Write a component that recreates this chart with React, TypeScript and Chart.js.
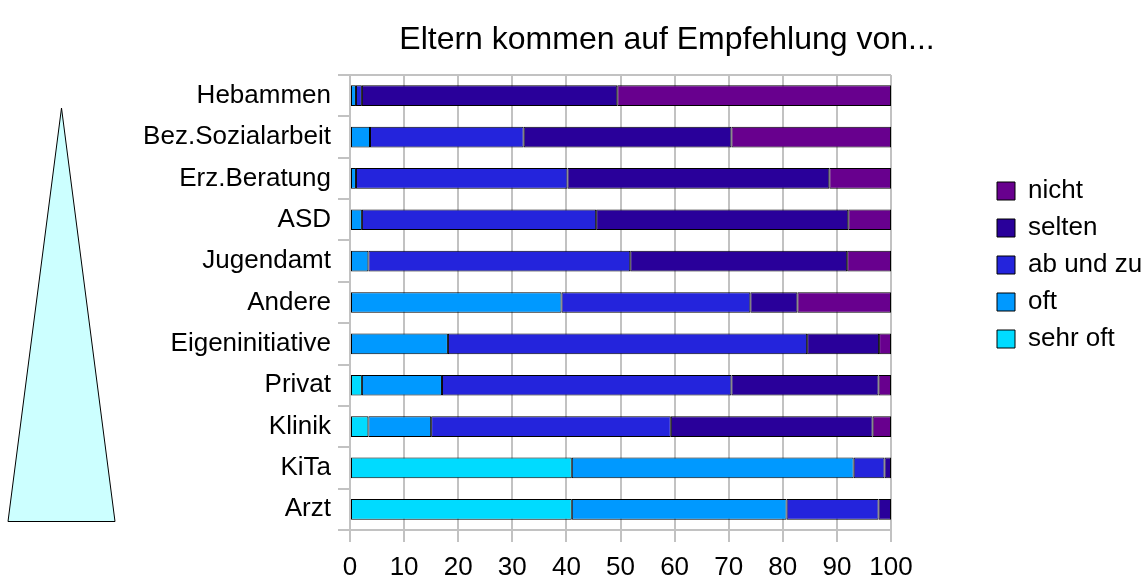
import React, { useEffect, useRef } from 'react';
import { Chart, registerables } from 'chart.js';

Chart.register(...registerables);

const categories = [
  'Hebammen',
  'Bez.Sozialarbeit',
  'Erz.Beratung',
  'ASD',
  'Jugendamt',
  'Andere',
  'Eigeninitiative',
  'Privat',
  'Klinik',
  'KiTa',
  'Arzt',
];

const sehrOft = [0, 0, 0, 0, 0, 0, 0, 2.2, 3.4, 41.0, 41.0];
const oft = [1.1, 3.7, 1.1, 2.2, 3.4, 39.1, 18.1, 14.8, 11.6, 52.1, 39.7];
const abUndZu = [1.1, 28.4, 39.1, 43.3, 48.4, 34.9, 66.4, 53.5, 44.3, 5.7, 17.0];
const selten = [47.2, 38.4, 48.4, 46.6, 40.1, 8.7, 13.3, 27.2, 37.3, 1.2, 2.3];
const nicht = [50.6, 29.5, 11.4, 7.9, 8.1, 17.3, 2.2, 2.3, 3.4, 0, 0];

const seriesNames = ['sehr oft', 'oft', 'ab und zu', 'selten', 'nicht'];
const seriesValues = [sehrOft, oft, abUndZu, selten, nicht];
const seriesColors = ['#00dbff', '#0099ff', '#2424dc', '#29009a', '#68008e'];

const titleText = 'Eltern kommen auf Empfehlung von...';
const xMin = 0;
const xMax = 100;
const xStep = 10;

// layout (page pixels)
const W = 1144;
const H = 579;
const PLOT_LEFT = 350;
const PLOT_RIGHT = 891;
const PLOT_BOTTOM = 530;
const LEGEND_BOX_X = 997;
const LEGEND_BOX_Y = 182;
const LEGEND_PAD = 11;
const LEGEND_BOX = 18;
const LEGEND_FONT = 26;
const TITLE_CENTER_X = 667;
const GRID = '#c2c2c2';
const FONT = "'Liberation Sans', Arial, sans-serif";

const tweaks = {
  id: 'tweaks',
  beforeInit(chart: any) {
    const lg = chart.legend;
    if (lg) {
      const orig = lg.fit;
      lg.fit = function () {
        orig.call(this);
        this.width = W - PLOT_RIGHT;
      };
    }
  },
  afterLayout(chart: any) {
    const lg = chart.legend;
    if (lg) {
      const nl = LEGEND_BOX_X - LEGEND_PAD;
      const dx = nl - lg.left;
      lg.left += dx;
      lg.right += dx;
      lg.top = LEGEND_BOX_Y - LEGEND_PAD - (LEGEND_FONT - LEGEND_BOX) / 2;
    }
    const t = chart.titleBlock;
    if (t) {
      const c = (t.left + t.right) / 2;
      const dx = TITLE_CENTER_X - c;
      t.left += dx;
      t.right += dx;
    }
  },
};

export default function App() {
  const ref = useRef<HTMLCanvasElement>(null);
  useEffect(() => {
    if (!ref.current) return;
    const chart = new Chart(ref.current, {
      type: 'bar',
      data: {
        labels: categories,
        datasets: seriesNames.map((name, i) => ({
          label: name,
          data: seriesValues[i],
          backgroundColor: seriesColors[i],
          borderColor: '#000000',
          borderWidth: 1,
          borderSkipped: false,
          inflateAmount: 0,
          barPercentage: 0.5,
          categoryPercentage: 1,
        })),
      },
      options: {
        indexAxis: 'y',
        responsive: false,
        animation: false,
        layout: { padding: 0 },
        plugins: {
          title: {
            display: true,
            text: titleText,
            color: '#000',
            font: { family: FONT, size: 32, weight: 'normal' },
            padding: { top: 21, bottom: 15.6 },
          },
          legend: {
            display: true,
            position: 'right',
            align: 'start',
            reverse: true,
            labels: {
              color: '#000',
              boxWidth: LEGEND_BOX,
              boxHeight: LEGEND_BOX,
              padding: LEGEND_PAD,
              font: { family: FONT, size: LEGEND_FONT },
            },
          },
          tooltip: { enabled: false },
        },
        scales: {
          x: {
            type: 'linear',
            stacked: true,
            min: xMin,
            max: xMax,
            ticks: {
              stepSize: xStep,
              color: '#000',
              padding: 10,
              font: { family: FONT, size: 26 },
            },
            grid: {
              color: GRID,
              lineWidth: 2,
              tickColor: GRID,
              tickWidth: 2,
              tickLength: 12,
              drawTicks: true,
            },
            border: { color: GRID, width: 2 },
            afterFit: (scale: any) => {
              scale.height = H - PLOT_BOTTOM;
            },
          },
          y: {
            type: 'category',
            stacked: true,
            ticks: {
              color: '#000',
              padding: 7,
              font: { family: FONT, size: 26 },
            },
            grid: {
              offset: true,
              drawOnChartArea: true,
              lineWidth: 2,
              color: (ctx: any) => (ctx.index === 0 ? GRID : 'rgba(0,0,0,0)'),
              tickColor: GRID,
              tickWidth: 2,
              tickLength: 12,
            },
            border: { color: GRID, width: 2 },
            afterFit: (scale: any) => {
              scale.width = PLOT_LEFT;
            },
          },
        },
      },
      plugins: [tweaks],
    } as any);
    return () => chart.destroy();
  }, []);

  return (
    <div style={{ position: 'fixed', left: 0, top: 0, width: W, height: H, background: '#fff' }}>
      <svg style={{ position: 'absolute', left: 0, top: 0 }} width={W} height={H}>
        <polygon points="61.5,108 8,521.5 115,521.5" fill="#ccffff" stroke="#000" strokeWidth={1} />
      </svg>
      <canvas ref={ref} width={W} height={H} style={{ position: 'absolute', left: 0, top: 0 }} />
    </div>
  );
}
